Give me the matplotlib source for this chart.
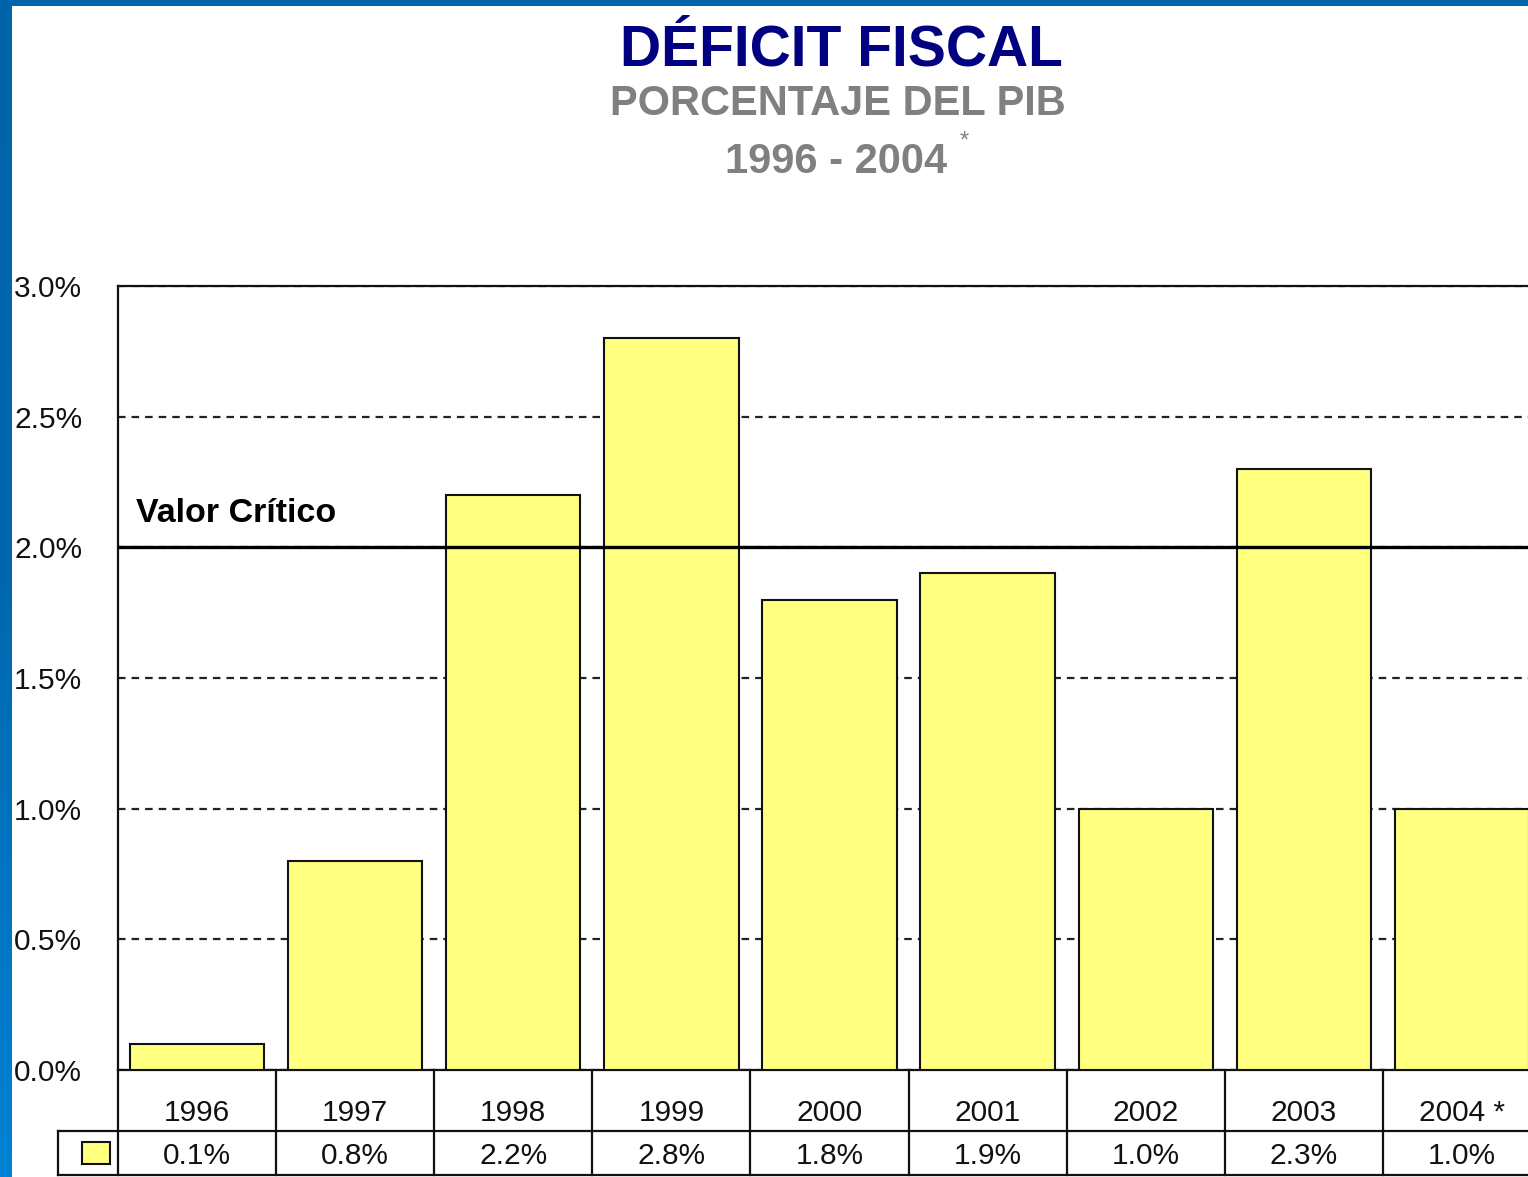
import numpy as np
import matplotlib
matplotlib.use("Agg")
from matplotlib import pyplot as plt
from matplotlib import font_manager
from matplotlib.patches import Rectangle

# Datos del grafico
anios = ["1996", "1997", "1998", "1999", "2000", "2001", "2002", "2003", "2004 *"]
deficit = [0.1, 0.8, 2.2, 2.8, 1.8, 1.9, 1.0, 2.3, 1.0]
valor_critico = 2.0
ticks_y = [0.0, 0.5, 1.0, 1.5, 2.0, 2.5, 3.0]

disponibles = {f.name for f in font_manager.fontManager.ttflist}
fuente_fina = "Liberation Sans Narrow" if "Liberation Sans Narrow" in disponibles else "Liberation Sans"
fuente_titulo = "Liberation Sans"
tam_fino = 23 if fuente_fina == "Liberation Sans Narrow" else 21.5

W, H = 1528, 1177
fig = plt.figure(figsize=(W / 100, H / 100), dpi=100)
fig.patch.set_facecolor("white")

# Borde azul (izquierda con degradado, arriba liso)
borde = fig.add_axes([0, 0, 12 / W, 1])
grad = np.linspace(0, 1, 256).reshape(-1, 1)
cmap = matplotlib.colors.LinearSegmentedColormap.from_list("azul", ["#0064a8", "#0068b0", "#0082d4"])
borde.imshow(grad, aspect="auto", cmap=cmap, extent=[0, 1, 0, 1])
borde.axis("off")
fig.patches.append(Rectangle((0, 1 - 6 / H), 1, 6 / H, transform=fig.transFigure,
                             facecolor="#0064a8", edgecolor="none"))

# Titulos
fig.text(841 / W, 1 - 66 / H, "DÉFICIT FISCAL", ha="center", va="baseline",
         fontsize=41, fontweight="bold", color="#000080", family=fuente_titulo)
fig.text(838 / W, 1 - 115 / H, "PORCENTAJE DEL PIB", ha="center", va="baseline",
         fontsize=30, fontweight="bold", color="#808080", family=fuente_titulo)
fig.text(836 / W, 1 - 173 / H, "1996 - 2004", ha="center", va="baseline",
         fontsize=30, fontweight="bold", color="#808080", family=fuente_titulo)
fig.text(964 / W, 1 - 142 / H, "*", ha="center", va="center",
         fontsize=17, color="#808080", family=fuente_titulo)

# Area del grafico (se sale por la derecha como en el original)
ax = fig.add_axes([118 / W, 107 / H, 1423 / W, 784 / H])
x = np.arange(len(anios))
ax.bar(x, deficit, width=0.85, color="#ffff80", edgecolor="#111111", linewidth=1.5, zorder=3)
ax.set_xlim(-0.5, len(anios) - 0.5)
ax.set_ylim(0, 3.0)

ax.set_yticks(ticks_y)
ax.set_yticklabels([f"{v:.1f}%" for v in ticks_y], family=fuente_fina, fontsize=tam_fino, color="#111111")
# etiquetas alineadas a la izquierda, empezando en x=14 px
ax.tick_params(axis="y", length=0, pad=(118 - 14) * 0.72)
for lbl in ax.get_yticklabels():
    lbl.set_horizontalalignment("left")
ax.set_xticks([])
ax.yaxis.grid(True, color="#222222", linewidth=1.6, linestyle=(0, (3.4, 2.7)), zorder=1)
ax.set_axisbelow(True)
for lado in ["left", "top", "bottom", "right"]:
    ax.spines[lado].set_linewidth(1.6)
    ax.spines[lado].set_color("#111111")

# Linea de valor critico
ax.axhline(valor_critico, color="black", linewidth=2.4, zorder=4)
ax.text(-0.5 + 18 / 158, valor_critico + 0.097, "Valor Crítico", ha="left", va="baseline",
        fontsize=24.5, fontweight="bold", color="black", family=fuente_titulo, zorder=5)

# Tabla de datos debajo del eje
tr = ax.get_xaxis_transform()
fila1 = -61 / 784
fila2 = -105 / 784
izq = -0.5 - 60 / 158
der = len(anios) - 0.5
kw = dict(color="#111111", linewidth=1.6, transform=tr, clip_on=False)
for b in np.arange(len(anios) + 1) - 0.5:
    ax.plot([b, b], [0, fila2], **kw)
ax.plot([izq, der], [fila1, fila1], **kw)
ax.plot([izq, der], [fila2, fila2], **kw)
ax.plot([izq, izq], [fila1, fila2], **kw)
ax.add_patch(Rectangle((-0.5 - 36 / 158, -94 / 784), 28 / 158, 22 / 784, transform=tr,
                       clip_on=False, facecolor="#ffff80", edgecolor="#111111", linewidth=1.5))

for i, (anio, v) in enumerate(zip(anios, deficit)):
    ax.text(i, -51 / 784, anio, transform=tr, ha="center", va="baseline",
            family=fuente_fina, fontsize=tam_fino, color="#111111")
    ax.text(i, -94 / 784, f"{v:.1f}%", transform=tr, ha="center", va="baseline",
            family=fuente_fina, fontsize=tam_fino, color="#111111")

plt.savefig("out.png", dpi=100)
plt.close()
